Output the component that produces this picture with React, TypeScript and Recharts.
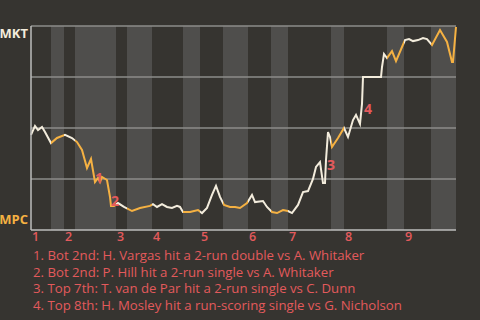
import React from "react";
import {
  LineChart,
  Line,
  XAxis,
  YAxis,
  ReferenceArea,
  ReferenceLine,
  ReferenceDot,
} from "recharts";

const progress = [
  0, 0.8, 1.4, 2.2, 2.8, 4.0, 5.2, 6.8, 8.2, 9.2, 10.2, 11.2, 12.0, 12.8, 13.4, 13.8, 14.2, 15.2, 15.8, 16.0,
  16.6, 17.4, 18.6, 20.2, 21.8, 23.8, 24.4, 25.2, 26.2, 27.2, 28.2, 29.2, 29.8, 30.4, 31.8, 33.4, 34.2, 35.2,
  36.2, 37.0, 37.8, 38.6, 39.8, 40.8, 41.8, 43.2, 44.2, 44.8, 46.4, 47.2, 48.2, 49.2, 50.4, 51.4, 52.2, 53.4,
  54.4, 55.4, 56.4, 57.0, 57.8, 58.4, 58.8, 59.0, 59.4, 59.8, 60.2, 61.4, 62.6, 63.4, 64.4, 65.0, 65.8, 66.2,
  66.4, 70.0, 70.2, 70.6, 71.2, 72.2, 73.0, 74.2, 74.8, 75.6, 76.4, 77.4, 78.4, 79.2, 80.2, 81.8, 83.2, 84.2,
  84.4, 85.0,
];

const winProb = [
  46.6, 51.0, 49.0, 50.5, 48.0, 42.6, 45.1, 46.6, 45.1, 43.1, 39.2, 30.4, 34.8, 23.5, 25.5, 23.5, 26.0, 24.5, 16.2, 11.8,
  11.8, 13.2, 11.3, 9.3, 10.8, 11.8, 12.7, 11.3, 12.7, 11.3, 10.8, 11.8, 11.3, 8.8, 8.8, 9.8, 8.3, 10.8,
  17.2, 21.6, 16.2, 12.3, 11.3, 11.3, 10.8, 13.2, 17.2, 13.7, 14.2, 11.3, 8.8, 8.3, 9.8, 9.3, 8.3, 12.3,
  18.6, 19.1, 25.0, 30.9, 33.3, 23.0, 23.0, 34.3, 48.0, 45.6, 40.7, 45.1, 50.0, 45.6, 53.9, 56.4, 52.0, 61.8,
  75.0, 75.0, 79.9, 86.3, 84.3, 87.7, 82.8, 89.7, 93.1, 93.6, 92.6, 93.1, 94.1, 93.6, 90.7, 98.0, 92.2, 82.4,
  82.4, 99.5,
];

// half-inning boundaries along the game progress axis
const halfBounds = [0, 4, 6.6, 8.8, 17, 19.2, 24.2, 30.4, 33.8, 38.4, 43.4, 48, 51.4, 60, 62.6, 71.2, 74.6, 80, 85];
const inningLabels = ["1", "2", "3", "4", "5", "6", "7", "8", "9"];
const inningStarts = [0, 6.6, 17, 24.2, 33.8, 43.4, 51.4, 62.6, 74.6];

const yTicks = [0, 25, 50, 75, 100];
const teamTop = "MKT";
const teamBottom = "MPC";

const annotationNums = ["1", "2", "3", "4"];
const annotationX = [13.6, 16.8, 60, 67.4];
const annotationY = [25.5, 14.2, 31.9, 59.3];

const notes = [
  "1. Bot 2nd: H. Vargas hit a 2-run double vs A. Whitaker",
  "2. Bot 2nd: P. Hill hit a 2-run single vs A. Whitaker",
  "3. Top 7th: T. van de Par hit a 2-run single vs C. Dunn",
  "4. Top 8th: H. Mosley hit a run-scoring single vs G. Nicholson",
];

const BG = "#363430";
const STRIPE = "#4f4e4c";
const GRID = "#8c8c8a";
const WHITE = "#f3ecdc";
const ORANGE = "#f5b142";
const RED = "#e35a5c";
const FONT = "'Open Sans', 'Noto Sans', sans-serif";

const data = progress.map((p, i) => ({ p, v: winProb[i] }));
const xMax = halfBounds[halfBounds.length - 1];

const XTick = (props: any) => {
  const { x, y, index } = props;
  return (
    <text x={x + 1} y={y} dy={3} textAnchor="start" fill={RED} fontSize={12.5} fontWeight={600} fontFamily={FONT}>
      {inningLabels[index]}
    </text>
  );
};

const YTick = (props: any) => {
  const { x, y, payload } = props;
  if (payload.value === 100) {
    return (
      <text x={x + 5} y={y} dy={12} textAnchor="end" fill={WHITE} fontSize={13} fontWeight={700} fontFamily={FONT}>
        {teamTop}
      </text>
    );
  }
  if (payload.value === 0) {
    return (
      <text x={x + 5} y={y} dy={-6} textAnchor="end" fill={ORANGE} fontSize={13} fontWeight={700} fontFamily={FONT}>
        {teamBottom}
      </text>
    );
  }
  return null;
};

export default function App() {
  const stops: React.ReactNode[] = [];
  for (let i = 0; i < halfBounds.length - 1; i++) {
    const c = i % 2 === 0 ? WHITE : ORANGE;
    stops.push(<stop key={`a${i}`} offset={halfBounds[i] / xMax} stopColor={c} />);
    stops.push(<stop key={`b${i}`} offset={halfBounds[i + 1] / xMax} stopColor={c} />);
  }
  const areas: React.ReactNode[] = [];
  for (let i = 1; i < halfBounds.length - 1; i += 2) {
    areas.push(
      <ReferenceArea
        key={`s${i}`}
        x1={halfBounds[i]}
        x2={halfBounds[i + 1]}
        y1={0}
        y2={100}
        fill={STRIPE}
        fillOpacity={1}
        stroke="none"
        ifOverflow="hidden"
      />
    );
  }
  return (
    <div style={{ position: "absolute", left: 0, top: 0, width: 480, height: 320, background: BG, fontFamily: FONT }}>
      <LineChart width={480} height={320} data={data} margin={{ top: 26, right: 24, left: 0, bottom: 0 }}>
        <defs>
          <linearGradient id="wpGrad" x1="0" y1="0" x2="1" y2="0">
            {stops}
          </linearGradient>
        </defs>
        <XAxis
          dataKey="p"
          type="number"
          domain={[0, xMax]}
          ticks={inningStarts}
          interval={0}
          height={90}
          tickLine={false}
          axisLine={{ stroke: "#bdbdbb", strokeWidth: 1.5 }}
          tick={<XTick />}
        />
        <YAxis
          type="number"
          domain={[0, 100]}
          ticks={yTicks}
          width={31}
          tickLine={false}
          axisLine={{ stroke: "#bdbdbb", strokeWidth: 1.5 }}
          tick={<YTick />}
        />
        {areas}
        {[25, 50, 75, 100].map((t) => (
          <ReferenceLine key={`g${t}`} y={t} stroke={GRID} strokeWidth={1.5} />
        ))}
        <Line
          type="linear"
          dataKey="v"
          stroke="url(#wpGrad)"
          strokeWidth={2}
          dot={false}
          isAnimationActive={false}
        />
        {annotationNums.map((n, i) => (
          <ReferenceDot
            key={`n${n}`}
            x={annotationX[i]}
            y={annotationY[i]}
            r={0}
            fill="none"
            stroke="none"
            label={{ value: n, position: "center", fill: RED, fontSize: 14, fontWeight: 700, fontFamily: FONT }}
          />
        ))}
      </LineChart>
      <div style={{ position: "absolute", left: 33, top: 247, color: RED, fontSize: 13.2, lineHeight: "16.5px", whiteSpace: "nowrap" }}>
        {notes.map((t) => (
          <div key={t}>{t}</div>
        ))}
      </div>
    </div>
  );
}
